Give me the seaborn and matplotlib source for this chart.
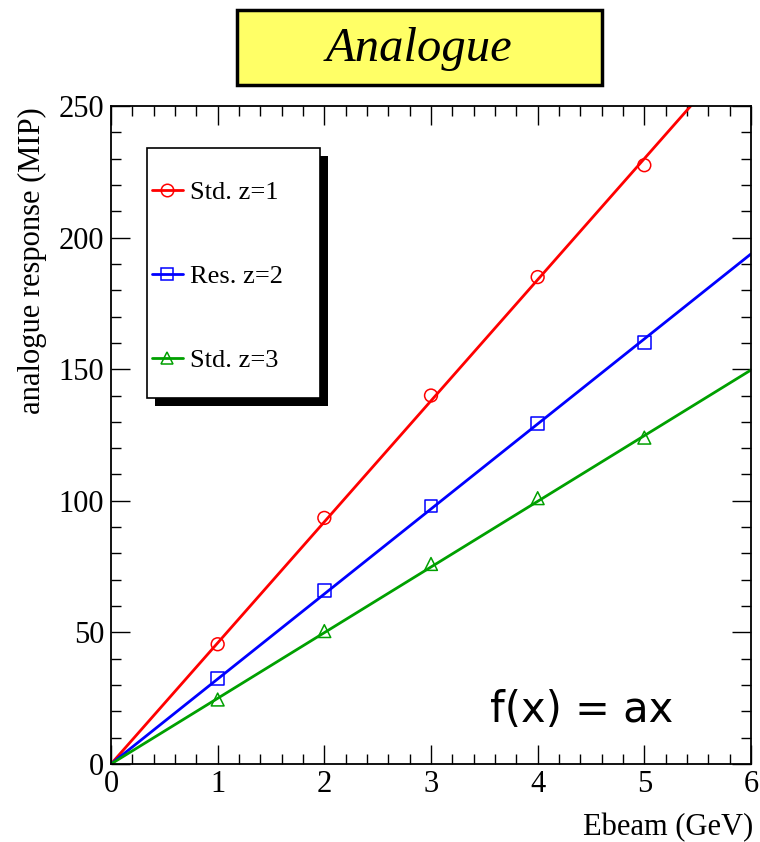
import numpy as np
import pandas as pd
import seaborn as sns
import matplotlib.pyplot as plt
from matplotlib.patches import Rectangle
from matplotlib.lines import Line2D
from matplotlib.ticker import MultipleLocator

# Measured analogue response per beam energy
ebeam = [1, 2, 3, 4, 5]
std_z1 = [45.5, 93.5, 140.0, 185.0, 227.5]
res_z2 = [32.5, 66.0, 98.0, 129.5, 160.0]
std_z3 = [24.5, 50.5, 76.0, 101.0, 124.0]

# Fitted slopes of f(x) = a x
slopes = {"Std. z=1": 46.0, "Res. z=2": 32.3, "Std. z=3": 24.95}

series_names = ["Std. z=1", "Res. z=2", "Std. z=3"]
colors = {"Std. z=1": "#ff0000", "Res. z=2": "#0000ff", "Std. z=3": "#00a000"}
markers = {"Std. z=1": "o", "Res. z=2": "s", "Std. z=3": "^"}

title_text = "Analogue"
xlabel = "Ebeam (GeV)"
ylabel = "analogue response (MIP)"
fit_label = "f(x) = ax"

points = pd.DataFrame({
    "Ebeam": ebeam * 3,
    "response": std_z1 + res_z2 + std_z3,
    "series": sum([[n] * len(ebeam) for n in series_names], []),
})
x_end = [0.0, 6.0]
fits = pd.DataFrame({
    "Ebeam": x_end * 3,
    "response": [slopes[n] * x for n in series_names for x in x_end],
    "series": sum([[n] * 2 for n in series_names], []),
})

sns.set_style("ticks")
plt.rcParams["font.family"] = ["Liberation Serif", "DejaVu Serif"]
plt.rcParams.update({"text.color": "black", "axes.labelcolor": "black",
                     "xtick.color": "black", "ytick.color": "black",
                     "xtick.labelcolor": "black", "ytick.labelcolor": "black"})

W, H = 760, 842
fig = plt.figure(figsize=(W / 100, H / 100), dpi=100)
ax = fig.add_axes([111 / W, 1 - 764 / H, 640 / W, 658 / H])

sns.lineplot(data=fits, x="Ebeam", y="response", hue="series",
             palette=colors, linewidth=2.0, legend=False, ax=ax)
for n in series_names:
    sub = points[points["series"] == n]
    sns.scatterplot(data=sub, x="Ebeam", y="response", marker=markers[n],
                    s=85, facecolor="none", edgecolor=colors[n],
                    linewidth=1.1, legend=False, ax=ax, zorder=3)

ax.set_xlim(0, 6)
ax.set_ylim(0, 250)
ax.xaxis.set_major_locator(MultipleLocator(1))
ax.xaxis.set_minor_locator(MultipleLocator(0.2))
ax.yaxis.set_major_locator(MultipleLocator(50))
ax.yaxis.set_minor_locator(MultipleLocator(10))
ax.tick_params(which="both", direction="in", top=True, right=True,
               color="black", width=1.0, labelsize=22)
ax.tick_params(axis="y", pad=5)
ax.tick_params(axis="x", pad=4)
ax.tick_params(which="major", length=13.5)
ax.tick_params(which="minor", length=7)
for s in ax.spines.values():
    s.set_color("black")
    s.set_linewidth(1.3)

ax.set_xlabel("")
ax.set_ylabel("")
fig.text(753 / W, 1 - 828 / H, xlabel, ha="right", va="center", fontsize=22)
fig.text(32 / W, 1 - 107 / H, ylabel, ha="center", va="top",
         rotation=90, fontsize=22)

ax.text(3.55, 16, fit_label, family="DejaVu Sans", fontsize=30,
        ha="left", va="baseline")

# Title box
fig.add_artist(Rectangle((237 / W, 1 - 85 / H), 365 / W, 75 / H,
                         transform=fig.transFigure, facecolor="#ffff66",
                         edgecolor="black", linewidth=2.5))
fig.text(419.5 / W, 1 - 49 / H, title_text, ha="center", va="center",
         fontsize=35, style="italic")

# Legend box with shadow
lx0, lx1, ly0, ly1 = 147, 320, 148, 398
sh = 8
fig.add_artist(Rectangle(((lx0 + sh) / W, 1 - (ly1 + sh) / H),
                         (lx1 - lx0) / W, (ly1 - ly0) / H,
                         transform=fig.transFigure, facecolor="black",
                         edgecolor="black", linewidth=0))
fig.add_artist(Rectangle((lx0 / W, 1 - ly1 / H), (lx1 - lx0) / W,
                         (ly1 - ly0) / H, transform=fig.transFigure,
                         facecolor="white", edgecolor="black", linewidth=1.2))
handles = [Line2D([], [], color=colors[n], lw=2.0, marker=markers[n],
                  markersize=9, markerfacecolor="none",
                  markeredgecolor=colors[n], markeredgewidth=1.1)
           for n in series_names]
fig.legend(handles, series_names, loc="upper left",
           bbox_to_anchor=(152 / W, 1 - 181 / H), frameon=False,
           fontsize=19, handlelength=1.17, handletextpad=0.27,
           labelspacing=2.28, borderpad=0, borderaxespad=0)

fig.savefig("out.png", dpi=100)
